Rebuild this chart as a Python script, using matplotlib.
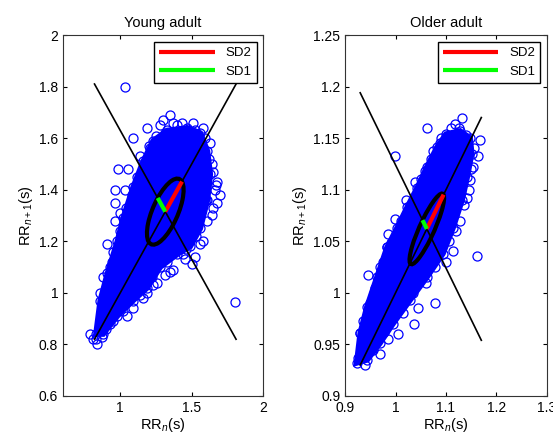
import matplotlib.pyplot as plt
from matplotlib.patches import Polygon, Ellipse

plt.rcParams['font.family'] = ['Liberation Sans', 'DejaVu Sans']
plt.rcParams['mathtext.fontset'] = 'custom'
plt.rcParams['mathtext.rm'] = 'Liberation Sans'
plt.rcParams['mathtext.it'] = 'Liberation Sans:italic'

# --- Young adult ---
# outline of the dense (solid) part of the point cloud
young_core_x = [0.83, 0.86, 0.91, 0.98, 1.02, 1.09, 1.16, 1.23, 1.33, 1.47, 1.56, 1.61,
                1.63, 1.61, 1.56, 1.49, 1.40, 1.28, 1.19, 1.09, 0.98, 0.88]
young_core_y = [0.84, 0.97, 1.075, 1.20, 1.29, 1.41, 1.51, 1.59, 1.63, 1.64, 1.62, 1.55,
                1.46, 1.36, 1.25, 1.18, 1.15, 1.10, 1.02, 0.97, 0.91, 0.84]
# single beats visible round the cloud
young_x = [1.034, 1.187, 1.09, 0.985, 1.055, 0.964, 1.034, 0.96, 0.999, 0.96, 0.91, 0.95,
           1.35, 1.30, 1.14, 1.21, 1.56, 1.44, 1.50, 1.35, 1.80, 1.70, 1.68, 1.65, 1.63,
           1.58, 1.51, 1.65, 1.61, 1.26, 1.19, 1.09, 0.93, 0.81, 0.84, 0.79, 0.86, 0.88,
           0.93, 1.00, 1.04, 1.08, 1.12, 1.25, 1.28, 1.40, 1.44, 1.55, 1.62, 1.66, 1.60,
           1.53, 1.46, 1.33, 1.22, 1.14, 1.02, 0.90, 0.83, 0.97, 1.06, 1.17, 1.38, 1.68,
           0.94, 0.98, 1.01, 1.07, 1.11, 1.18, 1.24, 1.31, 1.37, 1.43, 1.52, 1.59, 1.64,
           1.67, 1.64, 1.58, 1.52, 1.45, 1.37, 1.31, 1.23, 1.16, 1.05, 0.95, 0.87, 1.20]
young_y = [1.80, 1.64, 1.60, 1.48, 1.48, 1.40, 1.40, 1.35, 1.31, 1.28, 1.19, 1.16,
           1.69, 1.67, 1.53, 1.56, 1.19, 1.15, 1.11, 1.08, 0.963, 1.38, 1.43, 1.47, 1.58,
           1.64, 1.66, 1.33, 1.28, 1.04, 1.00, 0.94, 0.88, 0.82, 0.80, 0.84, 1.00, 1.06,
           1.10, 1.24, 1.33, 1.38, 1.45, 1.61, 1.65, 1.65, 1.60, 1.58, 1.52, 1.40, 1.36,
           1.22, 1.17, 1.12, 1.06, 0.99, 0.93, 0.86, 0.82, 1.02, 1.27, 1.49, 1.62, 1.35,
           1.12, 1.17, 1.22, 1.30, 1.36, 1.46, 1.55, 1.62, 1.66, 1.66, 1.63, 1.60, 1.50,
           1.42, 1.30, 1.20, 1.14, 1.13, 1.09, 1.07, 1.03, 0.98, 0.91, 0.89, 0.83, 1.57]
young_center = 1.315
young_sd1 = 0.075
young_sd2 = 0.165
young_range = (0.82, 1.81)

# --- Older adult ---
older_core_x = [0.923, 0.930, 0.943, 0.963, 0.983, 1.003, 1.023, 1.043, 1.062, 1.082, 1.100,
                1.128, 1.148, 1.151, 1.142, 1.132, 1.114, 1.094, 1.062, 1.029, 0.995, 0.969,
                0.944]
older_core_y = [0.932, 0.961, 0.986, 1.015, 1.044, 1.063, 1.083, 1.102, 1.122, 1.141, 1.154,
                1.157, 1.150, 1.135, 1.112, 1.090, 1.063, 1.038, 1.015, 0.993, 0.970, 0.951,
                0.935]
older_x = [1.062, 0.999, 1.039, 1.132, 1.118, 1.167, 1.164, 1.154, 1.148, 1.141, 1.128,
           1.114, 1.161, 1.079, 1.079, 1.036, 0.969, 0.940, 0.926, 0.946, 0.969, 0.999,
           0.985, 0.983, 0.936, 0.930, 1.035, 1.100, 1.088, 1.010, 1.020, 1.050, 1.070,
           1.090, 1.110, 1.125, 1.140, 1.155, 1.145, 1.120, 1.100, 1.060, 1.045, 1.005,
           0.985, 0.955, 0.935, 0.950, 0.975, 0.960, 1.030, 1.075, 1.105, 0.958, 0.992,
           1.015, 1.058, 1.150, 1.136, 1.087, 1.015, 0.978]
older_y = [1.160, 1.133, 1.107, 1.170, 1.164, 1.148, 1.133, 1.122, 1.109, 1.092, 1.070,
           1.041, 1.036, 1.025, 0.990, 0.970, 0.941, 0.930, 0.937, 1.017, 1.025, 1.072,
           1.057, 1.044, 0.973, 0.961, 1.000, 1.150, 1.145, 1.070, 1.090, 1.110, 1.130,
           1.150, 1.160, 1.160, 1.153, 1.140, 1.100, 1.060, 1.030, 1.010, 0.985, 0.960,
           0.955, 0.945, 0.945, 0.990, 1.030, 1.005, 1.080, 1.138, 1.050, 1.000, 1.048,
           1.068, 1.118, 1.120, 1.085, 1.045, 0.980, 0.962]
older_center = 1.062
older_sd1 = 0.012
older_sd2 = 0.047
older_range = (0.93, 1.17)


def poincare(ax, cx, cy, px, py, center, sd1, sd2, rng, title, xlim, ylim, xticks, yticks):
    blue = (0, 0, 1)
    ax.add_patch(Polygon(list(zip(cx, cy)), closed=True, facecolor=blue,
                         edgecolor=blue, linewidth=4, zorder=2))
    ax.plot(px, py, 'o', mfc='none', mec=blue, ms=6.5, mew=0.9, zorder=2)
    ax.plot(cx, cy, 'o', mfc='none', mec=blue, ms=6.5, mew=0.9, zorder=2)

    lo, hi = rng
    ax.plot([lo, hi], [lo, hi], color='k', lw=1.2, zorder=3)
    ax.plot([lo, hi], [2 * center - lo, 2 * center - hi], color='k', lw=1.2, zorder=3)

    ax.add_patch(Ellipse((center, center), 2 * sd2, 2 * sd1, angle=45,
                         fill=False, edgecolor='k', lw=3, zorder=4))
    d2 = sd2 / 2 ** 0.5
    d1 = sd1 / 2 ** 0.5
    ax.plot([center, center + d2], [center, center + d2], color='red', lw=3,
            solid_capstyle='butt', zorder=5, label='SD2')
    ax.plot([center, center - d1], [center, center + d1], color=(0, 1, 0), lw=3,
            solid_capstyle='butt', zorder=5, label='SD1')

    ax.set_xlim(xlim)
    ax.set_ylim(ylim)
    ax.set_xticks(xticks)
    ax.set_yticks(yticks)
    ax.set_xticklabels([('%g' % t) for t in xticks])
    ax.set_yticklabels([('%g' % t) for t in yticks])
    ax.tick_params(direction='in', top=True, right=True, labelsize=10, length=3)
    for s in ax.spines.values():
        s.set_color('#333333')
    ax.set_title(title, fontsize=10.5)
    ax.set_xlabel(r'RR$_n$(s)', fontsize=10.5, labelpad=1)
    ax.set_ylabel(r'RR$_{n+1}$(s)', fontsize=10.5, labelpad=3)
    leg = ax.legend(loc='upper right', handlelength=4.2, fontsize=9.5, fancybox=False,
                    framealpha=1, borderaxespad=0.5, labelspacing=0.5)
    leg.get_frame().set_edgecolor('k')
    leg.get_frame().set_linewidth(1.0)


fig = plt.figure(figsize=(5.53, 4.38), dpi=100)
ax1 = fig.add_axes([0.114, 0.096, 0.362, 0.824])
ax2 = fig.add_axes([0.624, 0.096, 0.365, 0.824])

poincare(ax1, young_core_x, young_core_y, young_x, young_y, young_center, young_sd1,
         young_sd2, young_range, 'Young adult', (0.6, 2), (0.6, 2),
         [1, 1.5, 2], [0.6, 0.8, 1, 1.2, 1.4, 1.6, 1.8, 2])
poincare(ax2, older_core_x, older_core_y, older_x, older_y, older_center, older_sd1,
         older_sd2, older_range, 'Older adult', (0.9, 1.3), (0.9, 1.25),
         [0.9, 1, 1.1, 1.2, 1.3], [0.9, 0.95, 1, 1.05, 1.1, 1.15, 1.2, 1.25])

fig.savefig('out.png', dpi=100)
